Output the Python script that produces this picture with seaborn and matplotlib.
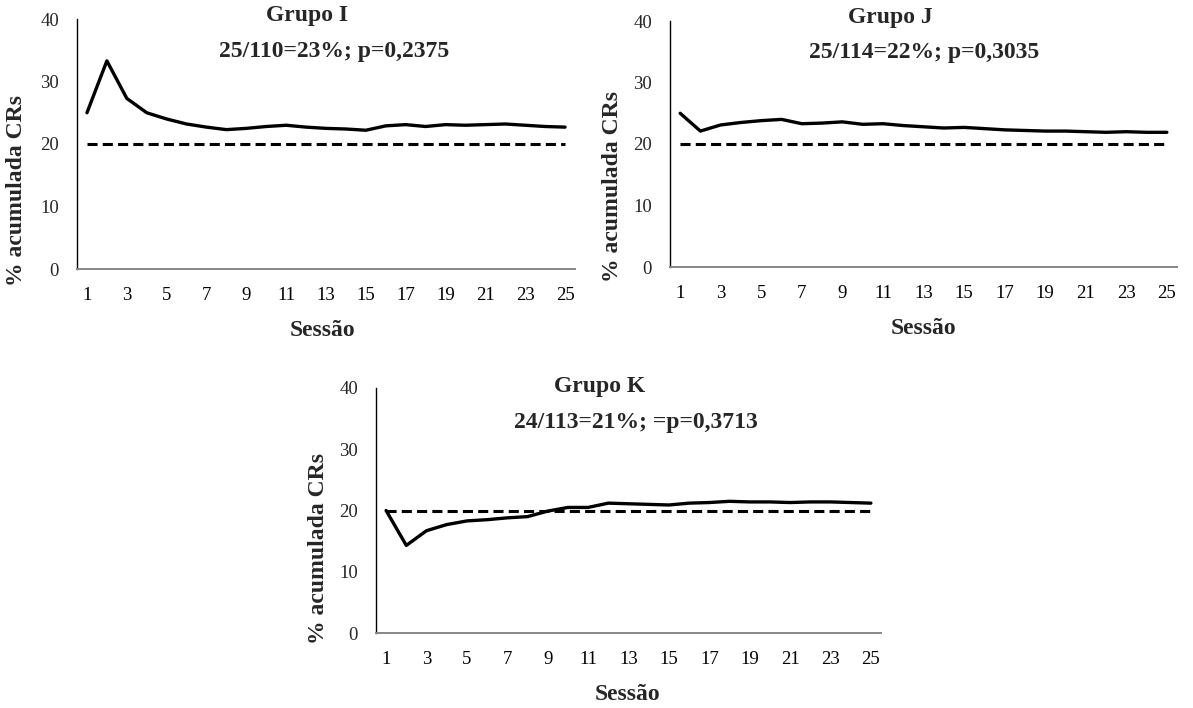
import numpy as np
import pandas as pd
import matplotlib
matplotlib.use("Agg")
import matplotlib.pyplot as plt
import seaborn as sns

# Cumulative % of conditioned responses per session, one series per group
sessions = list(range(1, 26))
grupo_i = [25.0, 33.3, 27.3, 25.0, 24.0, 23.2, 22.7, 22.3, 22.5, 22.8, 23.0, 22.7, 22.5,
           22.4, 22.2, 22.9, 23.1, 22.8, 23.1, 23.0, 23.1, 23.2, 23.0, 22.8, 22.7]
grupo_j = [25.0, 22.1, 23.1, 23.5, 23.8, 24.0, 23.3, 23.4, 23.6, 23.2, 23.3, 23.0, 22.8,
           22.6, 22.7, 22.5, 22.3, 22.2, 22.1, 22.1, 22.0, 21.9, 22.0, 21.9, 21.9]
grupo_k = [20.0, 14.3, 16.7, 17.7, 18.3, 18.5, 18.8, 19.0, 19.9, 20.5, 20.5, 21.2, 21.1,
           21.0, 20.9, 21.2, 21.3, 21.5, 21.4, 21.4, 21.3, 21.4, 21.4, 21.3, 21.2]
chance_pct = 20.0

titles = ["Grupo I", "Grupo J", "Grupo K"]
subtitles = ["25/110=23%; p=0,2375", "25/114=22%; p=0,3035", "24/113=21%; =p=0,3713"]
x_ticklabels = [str(s) for s in sessions[::2]]
y_ticks = [0, 10, 20, 30, 40]

sns.set_theme(style="white")
plt.rcParams["font.family"] = ["Liberation Serif", "DejaVu Serif"]

W, H = 1193, 708
fig = plt.figure(figsize=(W / 100, H / 100), dpi=100)

# panel boxes in pixels: left, right, top, bottom
boxes = [(77, 575, 19, 269), (670, 1177, 21, 267), (376, 881, 388, 633)]
# text anchors in pixels (x centre, baseline y); y-label given as centre
title_xy = [(307, 21), (890, 23), (600, 392)]
sub_xy = [(334, 57), (924, 58), (636, 428)]
ylab_xy = [(17, 190), (613, 187), (318, 549)]
xlab_xy = [(322, 336), (923, 334), (627, 700)]

series = [grupo_i, grupo_j, grupo_k]
gray = "#868686"
big = 17

for i, vals in enumerate(series):
    l, r, t, b = boxes[i]
    ax = fig.add_axes([l / W, 1 - b / H, (r - l) / W, (b - t) / H])
    df = pd.DataFrame({"Sessão": sessions, "pct": vals, "acaso": chance_pct})
    sns.lineplot(data=df, x="Sessão", y="acaso", ax=ax, color="black", lw=2.2,
                 linestyle="--", dashes=False)
    ax.lines[-1].set_dashes((3.3, 1.7))
    sns.lineplot(data=df, x="Sessão", y="pct", ax=ax, color="black", lw=2.4)

    ax.set_xlim(0.5, 25.5)
    ax.set_ylim(0, 40)
    ax.set_yticks(y_ticks)
    ax.set_yticklabels([str(v) for v in y_ticks], fontsize=13.5)
    ax.set_xticks(sessions[::2])
    ax.set_xticklabels(x_ticklabels, fontsize=13.5)
    ax.set_xticks(np.arange(0.5, 26, 1.0), minor=True)
    ax.tick_params(axis="x", which="major", length=0, pad=13, colors="black")
    ax.tick_params(axis="x", which="minor", length=6, width=1.2, color=gray, direction="out")
    ax.tick_params(axis="y", length=6, width=1.0, color="black", direction="out", pad=7)
    ax.set_xlabel("")
    ax.set_ylabel("")
    for side in ("top", "right"):
        ax.spines[side].set_visible(False)
    ax.spines["bottom"].set_color(gray)
    ax.spines["bottom"].set_linewidth(1.4)
    ax.spines["left"].set_color("black")
    ax.spines["left"].set_linewidth(1.0)
    ax.grid(False)

    fig.text(title_xy[i][0] / W, 1 - title_xy[i][1] / H, titles[i], ha="center",
             va="baseline", fontsize=big, fontweight="bold")
    fig.text(sub_xy[i][0] / W, 1 - sub_xy[i][1] / H, subtitles[i], ha="center",
             va="baseline", fontsize=big, fontweight="bold")
    fig.text(ylab_xy[i][0] / W, 1 - ylab_xy[i][1] / H, "% acumulada CRs", ha="center",
             va="center", rotation=90, fontsize=big, fontweight="bold")
    fig.text(xlab_xy[i][0] / W, 1 - xlab_xy[i][1] / H, "Sessão", ha="center",
             va="baseline", fontsize=big, fontweight="bold")

fig.savefig("out.png", dpi=100, facecolor="white")
